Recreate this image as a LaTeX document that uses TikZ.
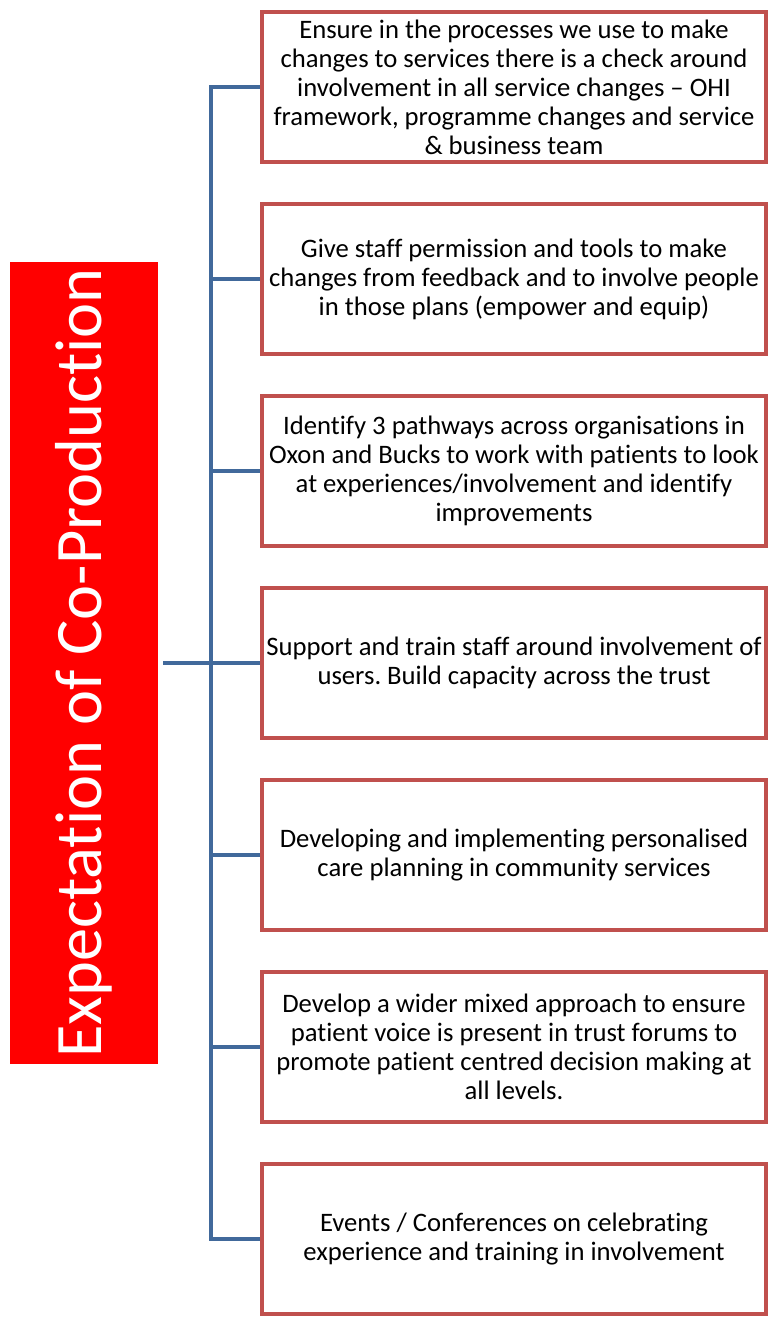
\documentclass[tikz,border=0pt]{standalone}
\usepackage{fontspec}
\setmainfont{Carlito}[Ligatures=NoCommon]
\usetikzlibrary{positioning}
\definecolor{trunkblue}{RGB}{65,105,155}
\definecolor{boxred}{RGB}{192,80,77}
\frenchspacing

\begin{document}
\begin{tikzpicture}[x=0.75pt,y=-0.75pt,
   item/.style={draw=boxred,line width=3pt,fill=white,minimum width=378pt,
     minimum height=113pt,align=center,inner sep=1pt,
     font=\fontsize{20}{21.75}\selectfont},
   link/.style={draw=trunkblue,line width=3pt}]
   \useasboundingbox (0,0) rectangle (770,1327);
   % title bar on the left
   \node[fill=red,rotate=90,text=white,minimum width=601.5pt,minimum height=111pt,
     font=\fontsize{49.8}{59}\selectfont] (root) at (84,663) {Expectation of Co-Production};
   % the seven aims
   \node[item] (s1) at (514,87) {Ensure in the processes we use to make\\changes to services there is a check around\\involvement in all service changes -- OHI\\framework, programme changes and service\\\& business team};
   \node[item] (s2) at (514,279) {Give staff permission and tools to make\\changes from feedback and to involve people\\in those plans (empower and equip)};
   \node[item] (s3) at (514,471) {Identify 3 pathways across organisations in\\Oxon and Bucks to work with patients to look\\at experiences/involvement and identify\\improvements};
   \node[item] (s4) at (514,663) {Support and train staff around involvement of\\users. Build capacity across the trust};
   \node[item] (s5) at (514,855) {Developing and implementing personalised\\care planning in community services};
   \node[item] (s6) at (514,1047) {Develop a wider mixed approach to ensure\\patient voice is present in trust forums to\\promote patient centred decision making at\\all levels.};
   \node[item] (s7) at (514,1239) {Events / Conferences on celebrating\\experience and training in involvement};
   \coordinate (fork) at (211,663);
   \draw[link,shorten <=3.75pt] (root) -- (fork); %title to trunk
   \draw[link] (fork) |- (s1); %trunk to 1
   \draw[link] (fork) |- (s2); %trunk to 2
   \draw[link] (fork) |- (s3); %trunk to 3
   \draw[link] (fork) |- (s4); %trunk to 4
   \draw[link] (fork) |- (s5); %trunk to 5
   \draw[link] (fork) |- (s6); %trunk to 6
   \draw[link] (fork) |- (s7); %trunk to 7
\end{tikzpicture}
\end{document}
